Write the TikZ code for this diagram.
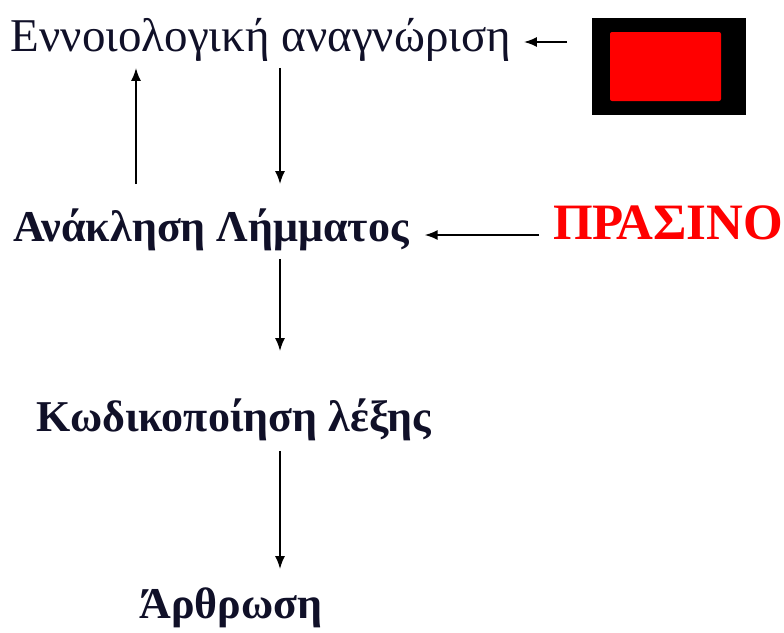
\documentclass[tikz,border=0pt]{standalone}
\usepackage{xcolor}
\usepackage{fontspec}
\setmainfont{Liberation Serif}
\usepackage{tikz}
\usetikzlibrary{arrows, arrows.meta, positioning}

\definecolor{inknavy}{RGB}{16,16,40}
\definecolor{signred}{RGB}{255,0,0}

\begin{document}
\begin{tikzpicture}[->,
				>={Latex[length=13pt,width=10pt]},
				x=1pt, y=-1pt,
				line width=1.8pt,
				stage/.style={text=inknavy, font=\fontsize{44}{50}\selectfont\bfseries,
					inner sep=0pt, text height=36pt, text depth=10pt}]
				\useasboundingbox (0,0) rectangle (784,632);
				\node[stage, font=\fontsize{47}{52}\selectfont] at (261,38) (a) {Εννοιολογική αναγνώριση};
				\node[stage] at (211,228) (b) {Ανάκληση Λήμματος};
				\node[stage] at (234,418) (c) {Κωδικοποίηση λέξης};
				\node[stage] at (231,605) (d) {Άρθρωση};
				\node[stage, text=signred, font=\fontsize{51}{56}\selectfont\bfseries] at (668,226) (e) {ΠΡΑΣΙΝΟ};
				% black frame with the red patch inside
				\node[fill=black, minimum width=154pt, minimum height=97pt, inner sep=0pt] at (669,66.5) (patch) {};
				\node[fill=signred, rounded corners=2pt, minimum width=111pt, minimum height=69pt, inner sep=0pt] at (665.5,66.5) (swatch) {};
				\coordinate (upx) at (136,0);
				\coordinate (downx) at (280,0);
				\draw[->, black, shorten <=24pt, shorten >=12pt] ([yshift=24.5pt]patch.west) -- ([yshift=-4pt]a.east);
				\draw[->, black, shorten <=20pt, shorten >=6pt] (b.north -| upx) -- (a.south -| upx);
				\draw[->, black, shorten <=6pt, shorten >=20pt] (a.south -| downx) -- (b.north -| downx);
				\draw[->, black, shorten <=13pt, shorten >=15pt] ([yshift=-9pt]e.west) -- ([yshift=-7pt]b.east);
				\draw[->, black, shorten <=7pt, shorten >=43pt] (b.south -| downx) -- (c.north -| downx);
				\draw[->, black, shorten <=9pt, shorten >=12pt] (c.south -| downx) -- (d.north -| downx);
			\end{tikzpicture}
\end{document}
